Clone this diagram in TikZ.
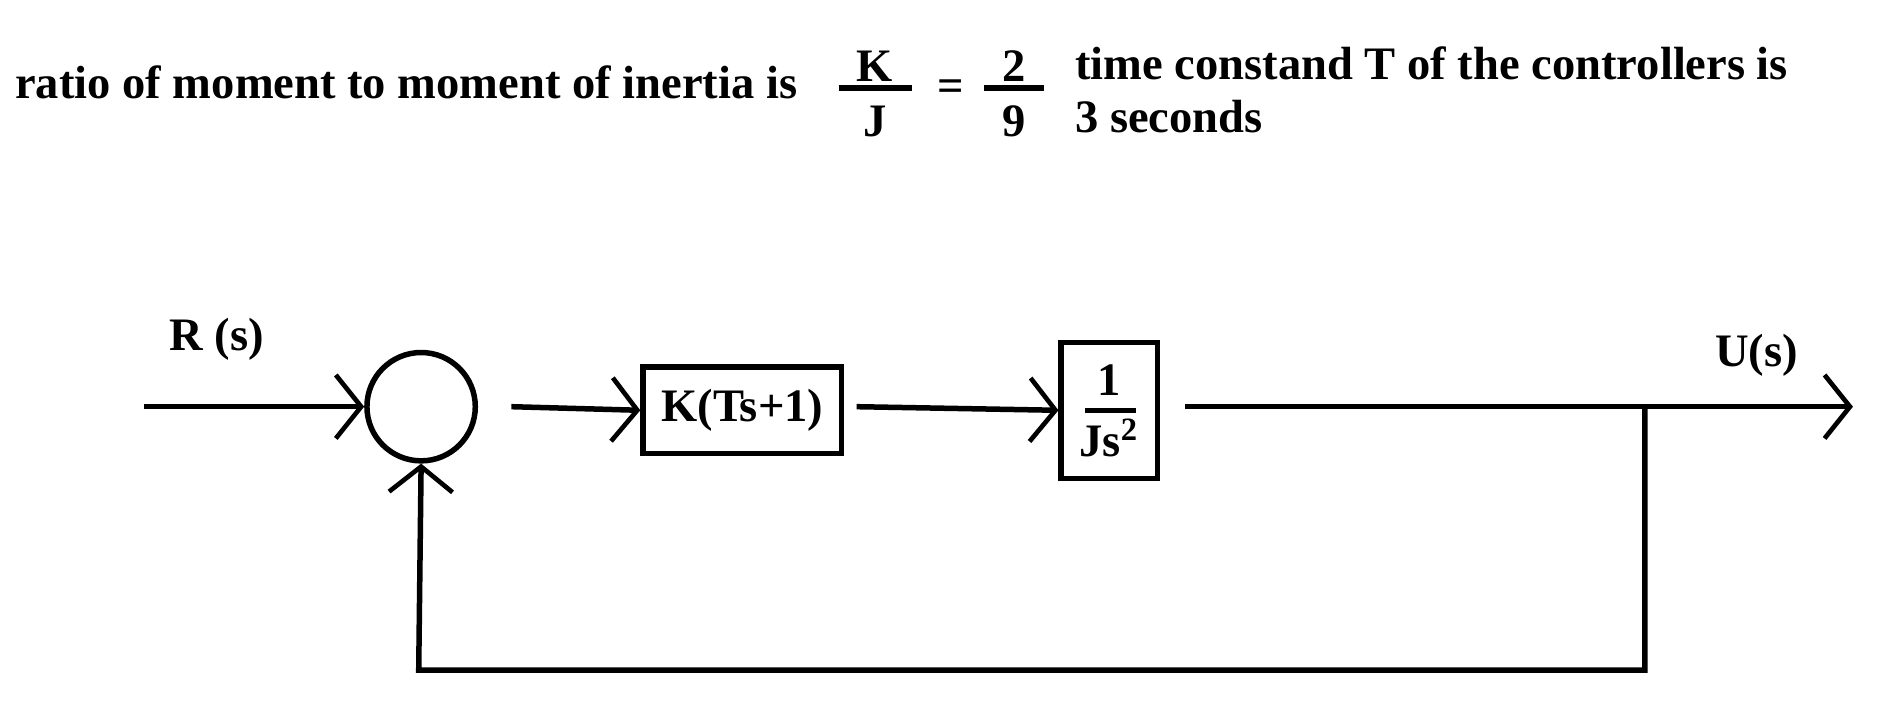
\documentclass[tikz,border=0pt]{standalone}
\usepackage{fontspec}
\setmainfont{Liberation Serif}
\usetikzlibrary{arrows.meta}
\begin{document}
\begin{tikzpicture}[x=0.01cm,y=-0.01cm,
  txt/.style={font=\fontsize{11}{13}\selectfont\bfseries, inner sep=0},
  ln/.style={line width=1.3pt},
  arr/.style={ln,-{Straight Barb[length=6pt,width=15pt,line width=1.1pt]}},
  blk/.style={draw,line width=1.3pt,inner sep=0}]
\useasboundingbox (0,0) rectangle (1560,600);
\node[txt,anchor=base west] (t1) at (12,82) {ratio of moment to moment of inertia is};
\node[txt] (k) at (727,55) {K};
\node[txt] (j) at (727,101) {J};
\draw[line width=1.3pt] (697,73) -- (758,73);
\node[txt] (eq) at (790,75) {=};
\node[txt] (two) at (843,55) {2};
\node[txt] (nine) at (843,101) {9};
\draw[line width=1.3pt] (818,73) -- (868,73);
\node[txt,anchor=base west] (t2) at (893,66) {time constand T of the controllers is};
\node[txt,anchor=base west] (t3) at (893,110) {3 seconds};
\coordinate (in) at (120,338);
\node[draw,circle,line width=1.3pt,minimum size=0.9cm,inner sep=0] (sum) at (350,338) {};
\node[blk,minimum width=1.65cm,minimum height=0.72cm] (g1) at (617,341) {\fontsize{11}{13}\selectfont\bfseries K(Ts+1)};
\node[blk,minimum width=0.8cm,minimum height=1.13cm] (g2) at (922,341) {};
\node[txt] (one) at (922,316) {1};
\node[txt] (js) at (922,364) {Js$^{\mathbf 2}$};
\draw[line width=1.3pt] (902,341) -- (944,341);
\coordinate (out) at (1540,338);
\coordinate (br) at (1367,338);
\coordinate (c1) at (425,338);
\coordinate (c2) at (712,338);
\coordinate (c3) at (985,338);
\coordinate (fb1) at (1367,557);
\coordinate (fb2) at (348,557);
\node[txt] (R) at (180,282) {R (s)};
\node[txt] (U) at (1460,295) {U(s)};
\draw[arr] (in) -- (sum.west);
\draw[arr] (c1) -- (g1.west);
\draw[arr] (c2) -- (g2.west);
\draw[arr] (c3) -- (out);
\draw[arr] (br) -- (fb1) -- (fb2) -- (sum.south);
\end{tikzpicture}
\end{document}
